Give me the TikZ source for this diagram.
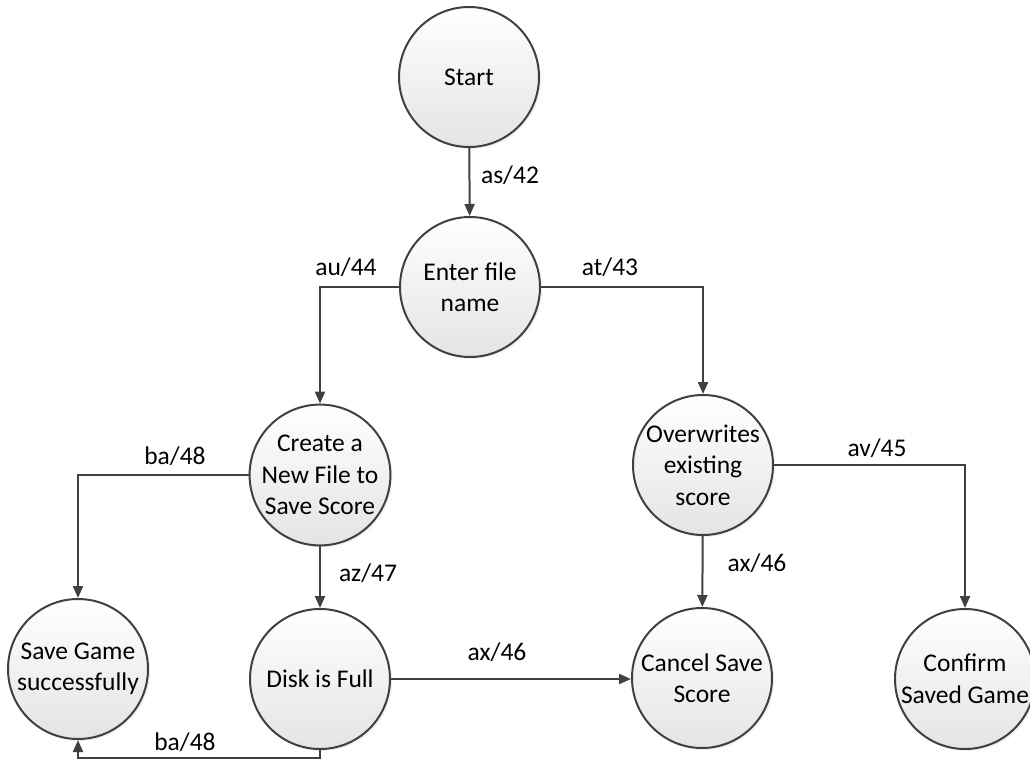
\documentclass[tikz,border=0pt]{standalone}
\usepackage{fontspec}
\setmainfont{Carlito}
\usetikzlibrary{arrows.meta,shadows}
\definecolor{linegray}{HTML}{404040}
\definecolor{fillgray}{HTML}{E4E4E4}
\begin{document}
\begin{tikzpicture}[x=1pt,y=-1pt,
  every node/.style={font=\fontsize{25.5pt}{31.5pt}\selectfont, text=black},
  state/.style={circle, draw=linegray, line width=2pt, minimum size=140pt,
    inner sep=0pt, align=center, shading=axis, top color=white,
    bottom color=fillgray,
    drop shadow={opacity=0.12, shadow xshift=2pt, shadow yshift=-2pt}},
  trans/.style={draw=linegray, line width=2pt,
    -{Triangle[length=12pt,width=10pt]}},
  lbl/.style={inner sep=0pt}]
\useasboundingbox (0,0) rectangle (1030,760);

% states
\node[state] (start)   at (469,77)  {Start};
\node[state] (enter)   at (470,287) {Enter file\\name};
\node[state] (create)  at (320,475) {Create a\\New File to\\Save Score};
\node[state] (over)    at (703,465) {Overwrites\\existing\\score};
\node[state] (save)    at (78,669)  {Save Game\\successfully};
\node[state] (disk)    at (320,679) {Disk is Full};
\node[state] (cancel)  at (702,678) {Cancel Save\\Score};
\node[state] (confirm) at (965,679) {Confirm\\Saved Game};

% transitions
\draw[trans] (start) -- (enter);
\draw[trans] (enter.west) -| (create.north);
\draw[trans] (enter.east) -| (over.north);
\draw[trans] (create.west) -| (save.north);
\draw[trans] (create) -- (disk);
\draw[trans] (disk.south) -- ++(0,8) -| (save.south);
\draw[trans] (disk.east) -- (disk.east -| cancel.west);
\draw[trans] (over) -- (cancel);
\draw[trans] (over.east) -| (confirm.north);

% transition labels
\node[lbl] (l1) at (510,175) {as/42};
\node[lbl] (l2) at (346,267) {au/44};
\node[lbl] (l3) at (610,267) {at/43};
\node[lbl] (l4) at (175,456) {ba/48};
\node[lbl] (l5) at (368,573) {az/47};
\node[lbl] (l6) at (185,742) {ba/48};
\node[lbl] (l7) at (497,652) {ax/46};
\node[lbl] (l8) at (757,563) {ax/46};
\node[lbl] (l9) at (877,448) {av/45};
\end{tikzpicture}
\end{document}
